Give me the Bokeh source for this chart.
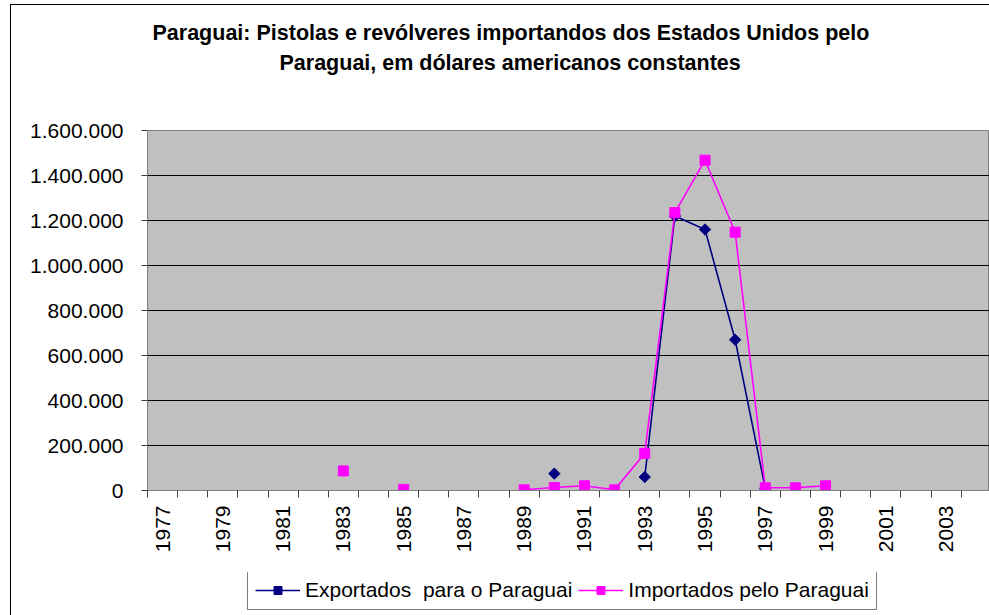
import math
from bokeh.plotting import figure
from bokeh.layouts import column
from bokeh.models import Range1d, FixedTicker, Legend, LegendItem, Title
from bokeh.embed import file_html
from bokeh.resources import INLINE

title_line1 = "Paraguai: Pistolas e revólveres importandos dos Estados Unidos pelo"
title_line2 = "Paraguai, em dólares americanos constantes"

years = list(range(1977, 2005))
N = None
exportados = [N, N, N, N, N, N, N, N, N, N, N, N, N,            # 1977-1989
              75000, N, N, 60000, 1220000, 1160000, 670000, 8000,  # 1990-1997
              N, N, N, N, N, N, N]                              # 1998-2004
importados = [N, N, N, N, N, N,                                 # 1977-1982
              87000, N, 5000, N, N, N,                          # 1983-1988
              3000, 13000, 21000, 3000, 165000, 1235000, 1468000, 1148000,  # 1989-1996
              12000, 12000, 21000,                              # 1997-1999
              N, N, N, N, N]                                    # 2000-2004

serie_exp = "Exportados  para o Paraguai"
serie_imp = "Importados pelo Paraguai"

y_ticks = [0, 200000, 400000, 600000, 800000, 1000000, 1200000, 1400000, 1600000]
y_tick_labels = ["0", "200.000", "400.000", "600.000", "800.000",
                 "1.000.000", "1.200.000", "1.400.000", "1.600.000"]
x_label_years = list(range(1977, 2005, 2))

def clean(vals):
    return [math.nan if v is None else v for v in vals]

FONT = "Liberation Sans"
FS = "21px"
NAVY = "#000080"
MAGENTA = "#FF00FF"

# ---------------- main chart ----------------
p = figure(width=989, height=572, frame_width=842, frame_height=360,
           output_backend="svg", toolbar_location=None,
           x_range=Range1d(years[0] - 0.5, 2004.44), y_range=Range1d(0, 1600000),
           min_border_left=147, min_border_right=0, min_border_top=130, min_border_bottom=82,
           background_fill_color="#C0C0C0", border_fill_color=None,
           outline_line_color="#808080")
p.styles = {"box-shadow": "inset 10px 4px 0 0 white, inset 11px 5px 0 0 black"}

spacer = Title(text=" ", text_font=FONT, text_font_size="20px", standoff=30)
t2 = Title(text=title_line2, align="left", offset=132, text_font=FONT,
           text_font_size="21.5px", text_font_style="bold", text_color="black", standoff=4)
t1 = Title(text=title_line1, align="left", offset=5, text_font=FONT,
           text_font_size="21.5px", text_font_style="bold", text_color="black", standoff=4)
p.add_layout(spacer, "above")
p.add_layout(t2, "above")
p.add_layout(t1, "above")

p.xgrid.visible = False
p.ygrid.ticker = FixedTicker(ticks=y_ticks[1:-1])
p.ygrid.grid_line_color = "black"
p.ygrid.grid_line_width = 1

p.yaxis.ticker = FixedTicker(ticks=y_ticks)
p.yaxis.major_label_overrides = {t: l for t, l in zip(y_ticks, y_tick_labels)}
p.yaxis.axis_line_color = "#808080"
p.yaxis.major_tick_line_color = "#404040"
p.yaxis.major_tick_out = 6
p.yaxis.major_tick_in = 0
p.yaxis.minor_tick_out = 0
p.yaxis.minor_tick_in = 0
p.yaxis.major_label_standoff = 18
p.yaxis.major_label_text_font = FONT
p.yaxis.major_label_text_font_size = FS
p.yaxis.major_label_text_color = "black"

p.xaxis.ticker = FixedTicker(ticks=x_label_years,
                             minor_ticks=[y - 0.5 for y in years] + [years[-1] + 0.5])
p.xaxis.major_label_overrides = {y: str(y) for y in x_label_years}
p.xaxis.axis_line_color = "#808080"
p.xaxis.major_tick_out = 0
p.xaxis.major_tick_in = 0
p.xaxis.minor_tick_out = 7
p.xaxis.minor_tick_in = 0
p.xaxis.minor_tick_line_color = "#404040"
p.xaxis.major_label_orientation = math.pi / 2
p.xaxis.major_label_standoff = 8
p.xaxis.major_label_text_font = FONT
p.xaxis.major_label_text_font_size = FS
p.xaxis.major_label_text_color = "black"

ye = clean(exportados)
yi = clean(importados)

p.line(years, ye, line_color=NAVY, line_width=1.6)
p.scatter(years, ye, marker="square", angle=math.pi / 4, size=8,
          fill_color=NAVY, line_color=NAVY)
p.line(years, yi, line_color=MAGENTA, line_width=1.6)
p.scatter(years, yi, marker="square", size=10, fill_color=MAGENTA, line_color=MAGENTA)

# ---------------- legend strip ----------------
lg = figure(width=989, height=43, output_backend="svg", toolbar_location=None,
            x_range=Range1d(0, 1), y_range=Range1d(0, 1),
            min_border=0, background_fill_color=None, border_fill_color=None,
            outline_line_color=None)
lg.axis.visible = False
lg.grid.visible = False
lg.styles = {"box-shadow": "inset 10px 0 0 0 white, inset 11px 0 0 0 black"}

# legend key renderers (no visible data: a single missing value)
nan_pt = [math.nan]
kl_exp = lg.line(nan_pt, nan_pt, line_color=NAVY, line_width=1.6)
ks_exp = lg.scatter(nan_pt, nan_pt, marker="square", angle=math.pi / 4, size=8,
                    fill_color=NAVY, line_color=NAVY)
kl_imp = lg.line(nan_pt, nan_pt, line_color=MAGENTA, line_width=1.6)
ks_imp = lg.scatter(nan_pt, nan_pt, marker="square", size=10, fill_color=MAGENTA, line_color=MAGENTA)

legend = Legend(items=[LegendItem(label=serie_exp, renderers=[kl_exp, ks_exp]),
                       LegendItem(label=serie_imp, renderers=[kl_imp, ks_imp])],
                orientation="horizontal", location=(100, 5),
                border_line_color="black", border_line_width=1,
                background_fill_color="white", background_fill_alpha=1,
                label_text_font=FONT, label_text_font_size=FS, label_text_color="black",
                glyph_width=45, glyph_height=20, spacing=6, padding=7, margin=0,
                label_standoff=5)
lg.add_layout(legend, "center")

layout = column(p, lg, spacing=0)
open("out.html", "w").write(file_html(layout, INLINE))
